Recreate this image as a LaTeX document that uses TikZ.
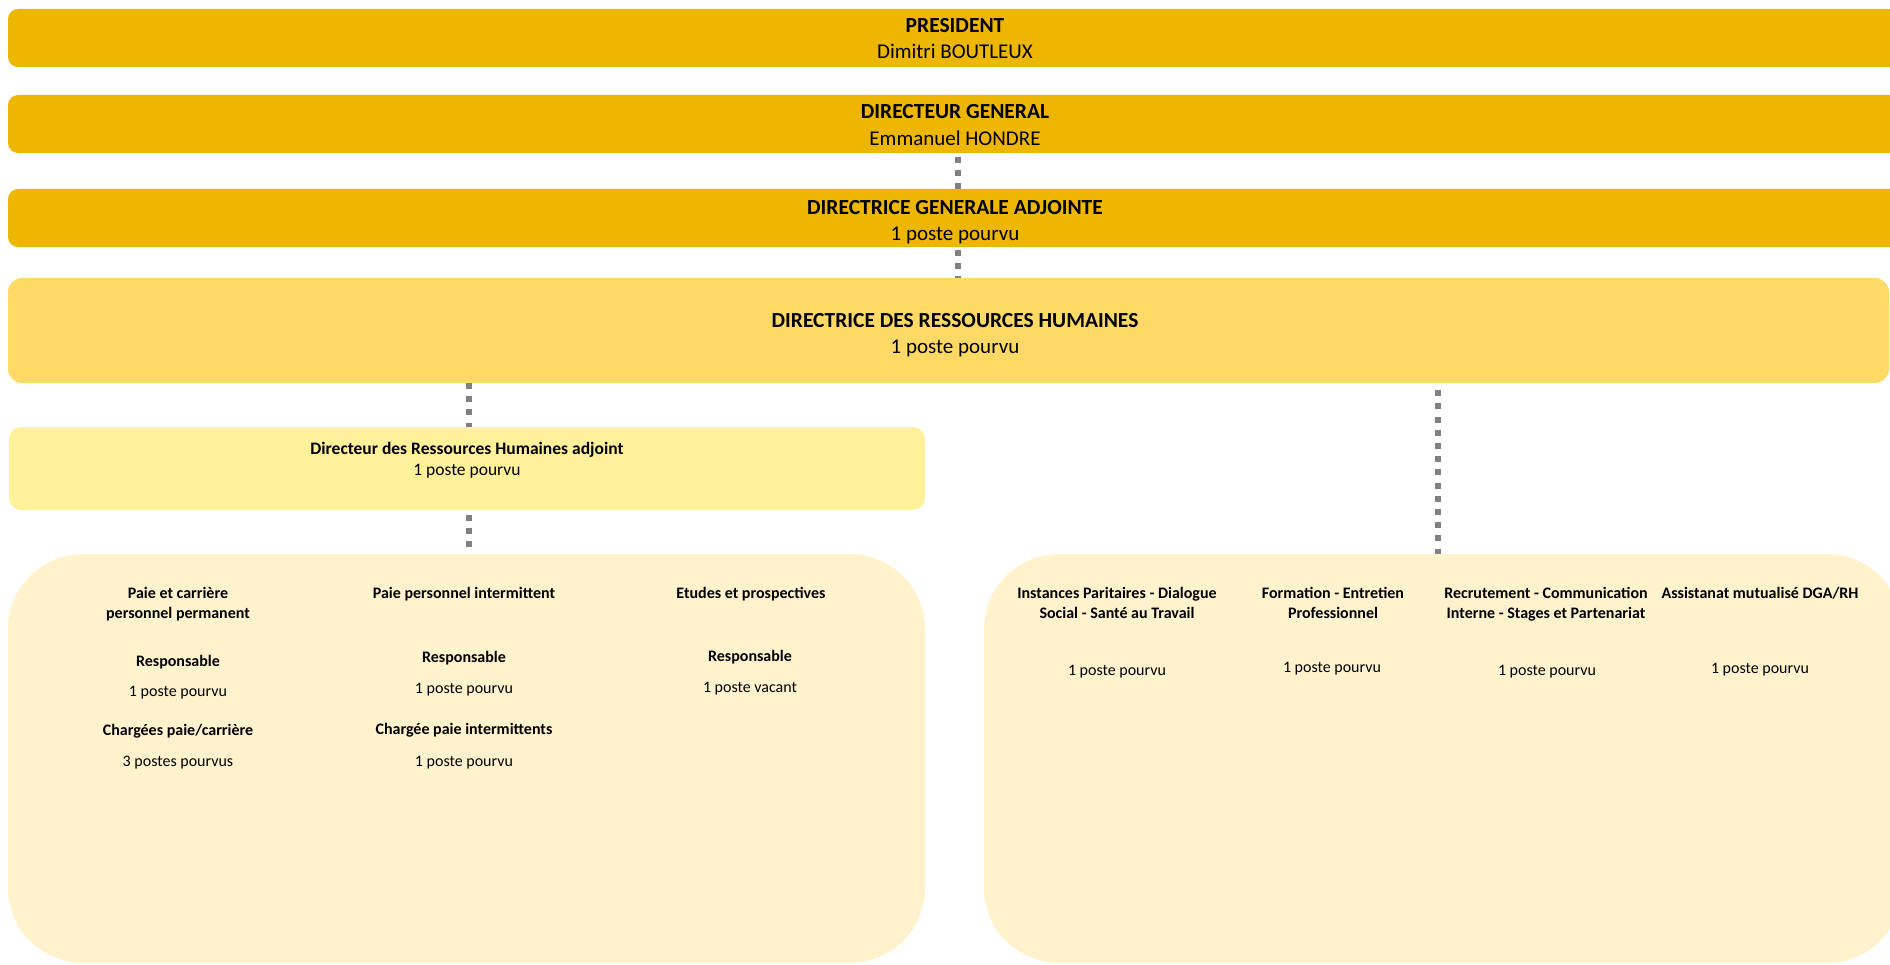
\documentclass[tikz,border=0pt]{standalone}
\usepackage{fontspec}
\setmainfont{Carlito}
\definecolor{gold}{HTML}{EDB600}
\definecolor{goldmid}{HTML}{FFD966}
\definecolor{goldpale}{HTML}{FFF09A}
\definecolor{goldlight}{HTML}{FFF2CC}
\definecolor{conngray}{HTML}{808080}
\begin{document}
\begin{tikzpicture}[x=1pt,y=-1pt,
  box/.style={inner sep=0pt, outer sep=0pt, draw=none, rounded corners=10pt},
  bigbox/.style={inner sep=0pt, outer sep=0pt, draw=none, fill=goldlight, rounded corners=75pt, minimum height=409pt},
  conn/.style={draw=conngray, line width=6pt, dash pattern=on 6pt off 7.2pt},
  tbold/.style={font=\bfseries\fontsize{21.5}{25}\selectfont, anchor=base, inner sep=0pt},
  treg/.style={font=\fontsize{21}{25}\selectfont, anchor=base, inner sep=0pt},
  mbold/.style={font=\bfseries\fontsize{17.5}{21}\selectfont, anchor=base, inner sep=0pt},
  mreg/.style={font=\fontsize{17.5}{21}\selectfont, anchor=base, inner sep=0pt},
  sbold/.style={font=\bfseries\fontsize{16}{19}\selectfont, anchor=base, inner sep=0pt},
  sreg/.style={font=\fontsize{16}{19}\selectfont, anchor=base, inner sep=0pt}]
\useasboundingbox (0,0) rectangle (1890,965);
\clip (0,0) rectangle (1890,965);

% boxes
\node[box, fill=gold, minimum width=1894pt, minimum height=58pt] (pres) at (955,38) {};
\node[box, fill=gold, minimum width=1894pt, minimum height=58pt] (dg) at (955,124) {};
\node[box, fill=gold, minimum width=1894pt, minimum height=58pt] (dga) at (955,218) {};
\node[box, fill=goldmid, rounded corners=14pt, minimum width=1881pt, minimum height=105pt] (drh) at (948.5,330.5) {};
\node[box, fill=goldpale, rounded corners=12pt, minimum width=916pt, minimum height=83pt] (drha) at (467,468.5) {};
\node[bigbox, minimum width=917pt] (left) at (466.5,758.5) {};
\node[bigbox, minimum width=918pt] (right) at (1443,758.5) {};

% connector columns
\coordinate (cA) at (958,0);
\coordinate (cB) at (469,0);
\coordinate (cC) at (1438,0);
\draw[conn, dash phase=9.2pt] (dg.south -| cA) -- (dga.north -| cA);
\draw[conn, dash phase=10.2pt] (dga.south -| cA) -- (drh.north -| cA);
\draw[conn, dash phase=0pt] (drh.south -| cB) -- (drha.north -| cB);
\draw[conn, dash phase=8.2pt] (drha.south -| cB) -- (left.north -| cB);
\draw[conn, dash phase=6pt] (drh.south -| cC) -- (right.north -| cC);

% top texts
\node[tbold] (presT) at (955,33) {PRESIDENT};
\node[treg] (presN) at (955,59) {Dimitri BOUTLEUX};
\node[tbold] (dgT) at (955,119) {DIRECTEUR GENERAL};
\node[treg] (dgN) at (955,146) {Emmanuel HONDRE};
\node[tbold] (dgaT) at (955,215) {DIRECTRICE GENERALE ADJOINTE};
\node[treg] (dgaN) at (955,241) {1 poste pourvu};
\node[tbold] (drhT) at (955,328) {DIRECTRICE DES RESSOURCES HUMAINES};
\node[treg] (drhN) at (955,354) {1 poste pourvu};
\node[mbold] (drhaT) at (467,454) {Directeur des Ressources Humaines adjoint};
\node[mreg] (drhaN) at (467,475) {1 poste pourvu};

% left box texts
\node[sbold] (l1a) at (178,598) {Paie et carrière};
\node[sbold] (l1b) at (178,618) {personnel permanent};
\node[sbold] (l1r) at (178,666) {Responsable};
\node[sreg]  (l1p) at (178,696) {1 poste pourvu};
\node[sbold] (l1c) at (178,735) {Chargées paie/carrière};
\node[sreg]  (l1d) at (178,766) {3 postes pourvus};

\node[sbold] (l2a) at (464,598) {Paie personnel intermittent};
\node[sbold] (l2r) at (464,662) {Responsable};
\node[sreg]  (l2p) at (464,693) {1 poste pourvu};
\node[sbold] (l2c) at (464,734) {Chargée paie intermittents};
\node[sreg]  (l2d) at (464,766) {1 poste pourvu};

\node[sbold] (l3a) at (751,598) {Etudes et prospectives};
\node[sbold] (l3r) at (750,661) {Responsable};
\node[sreg]  (l3p) at (750,692) {1 poste vacant};

% right box texts
\node[sbold] (r1a) at (1117,598) {Instances Paritaires - Dialogue};
\node[sbold] (r1b) at (1117,618) {Social - Santé au Travail};
\node[sreg]  (r1p) at (1117,675) {1 poste pourvu};

\node[sbold] (r2a) at (1333,598) {Formation - Entretien};
\node[sbold] (r2b) at (1333,618) {Professionnel};
\node[sreg]  (r2p) at (1332,672) {1 poste pourvu};

\node[sbold] (r3a) at (1546,598) {Recrutement - Communication};
\node[sbold] (r3b) at (1546,618) {Interne - Stages et Partenariat};
\node[sreg]  (r3p) at (1547,675) {1 poste pourvu};

\node[sbold] (r4a) at (1760,598) {Assistanat mutualisé DGA/RH};
\node[sreg]  (r4p) at (1760,673) {1 poste pourvu};
\end{tikzpicture}
\end{document}
